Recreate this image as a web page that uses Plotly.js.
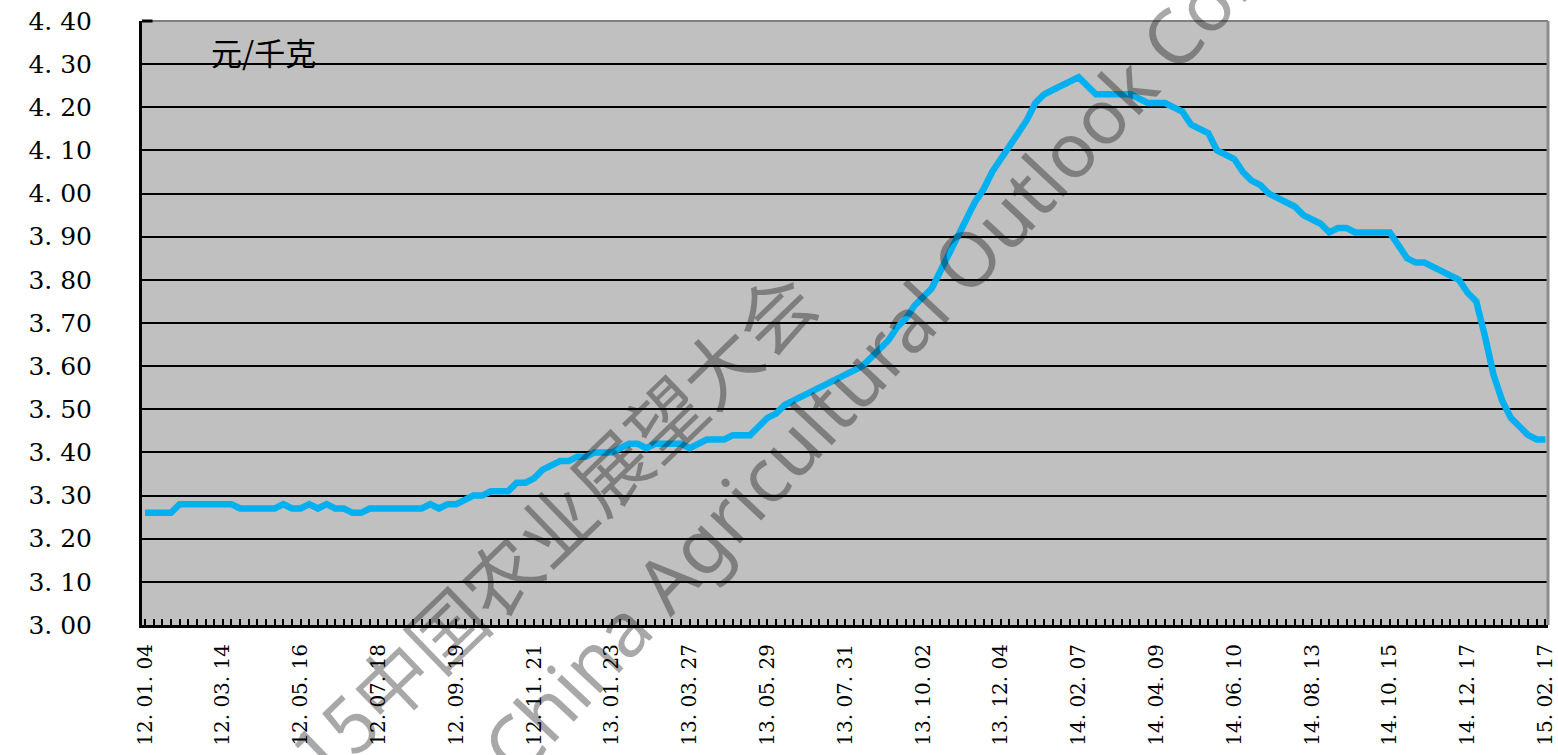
<!DOCTYPE html>
<html>
<head>
<meta charset="utf-8">
<script src="https://cdn.plot.ly/plotly-3.0.1.min.js"></script>
<style>html,body{margin:0;padding:0;background:#fff;}#chart{width:1558px;height:755px;}</style>
</head>
<body>
<div id="chart"></div>
<script>
// Weekly price (元/千克), 163 weekly observations 12.01.04 – 15.02.17
const prices = [
  3.26,3.26,3.26,3.26,3.28,3.28,3.28,3.28,3.28,3.28,
  3.28,3.27,3.27,3.27,3.27,3.27,3.28,3.27,3.27,3.28,
  3.27,3.28,3.27,3.27,3.26,3.26,3.27,3.27,3.27,3.27,
  3.27,3.27,3.27,3.28,3.27,3.28,3.28,3.29,3.30,3.30,
  3.31,3.31,3.31,3.33,3.33,3.34,3.36,3.37,3.38,3.38,
  3.39,3.39,3.40,3.40,3.40,3.41,3.42,3.42,3.41,3.42,
  3.42,3.42,3.42,3.41,3.42,3.43,3.43,3.43,3.44,3.44,
  3.44,3.46,3.48,3.49,3.51,3.52,3.53,3.54,3.55,3.56,
  3.57,3.58,3.59,3.60,3.62,3.64,3.66,3.69,3.71,3.74,
  3.76,3.78,3.82,3.86,3.90,3.94,3.98,4.01,4.05,4.08,
  4.11,4.14,4.17,4.21,4.23,4.24,4.25,4.26,4.27,4.25,
  4.23,4.23,4.23,4.23,4.23,4.22,4.21,4.21,4.21,4.20,
  4.19,4.16,4.15,4.14,4.10,4.09,4.08,4.05,4.03,4.02,
  4.00,3.99,3.98,3.97,3.95,3.94,3.93,3.91,3.92,3.92,
  3.91,3.91,3.91,3.91,3.91,3.88,3.85,3.84,3.84,3.83,
  3.82,3.81,3.80,3.77,3.75,3.67,3.58,3.52,3.48,3.46,
  3.44,3.43,3.43
];
// x-axis tick labels (every 9th week)
const dateLabels = ["12. 01. 04","12. 03. 14","12. 05. 16","12. 07. 18","12. 09. 19","12. 11. 21",
  "13. 01. 23","13. 03. 27","13. 05. 29","13. 07. 31","13. 10. 02","13. 12. 04",
  "14. 02. 07","14. 04. 09","14. 06. 10","14. 08. 13","14. 10. 15","14. 12. 17","15. 02. 17"];
const dateLabelWeeks = [0,9,18,27,36,45,54,63,72,81,90,99,108,117,126,135,144,153,162];
// y-axis ticks
const yTickValues = [3.0,3.1,3.2,3.3,3.4,3.5,3.6,3.7,3.8,3.9,4.0,4.1,4.2,4.3,4.4];
const yTickLabels = ["3. 00","3. 10","3. 20","3. 30","3. 40","3. 50","3. 60","3. 70","3. 80","3. 90","4. 00","4. 10","4. 20","4. 30","4. 40"];
const unitLabel = "元/千克";
const watermarkCn = "2015中国农业展望大会";
const watermarkEn = "China Agricultural Outlook Conference";

const weeks = prices.map((_, i) => i);

const trace = {
  x: weeks, y: prices, type: 'scatter', mode: 'lines',
  line: {color: '#00B0F0', width: 6.5},
  hoverinfo: 'skip'
};

const serif = 'DejaVu Serif, Liberation Serif, serif';
const layout = {
  width: 1558, height: 755,
  margin: {l: 142, r: 10, t: 21, b: 130},
  paper_bgcolor: '#ffffff',
  plot_bgcolor: '#C0C0C0',
  showlegend: false,
  xaxis: {
    range: [-0.35, 162.3],
    tickmode: 'array', tickvals: dateLabelWeeks, ticktext: dateLabels,
    tickangle: -90,
    ticks: 'inside', ticklen: 6, tickwidth: 2, tickcolor: '#000',
    minor: {tickmode: 'linear', tick0: 0, dtick: 1, ticks: 'inside', ticklen: 6, tickwidth: 2, tickcolor: '#000', showgrid: false},
    showgrid: false, zeroline: false,
    showline: true, linecolor: '#000', linewidth: 3,
    tickfont: {family: serif, size: 20, color: '#000'},
    ticklabelstandoff: 8
  },
  yaxis: {
    range: [3.0, 4.4],
    tickmode: 'array', tickvals: yTickValues, ticktext: yTickLabels,
    ticks: 'inside', ticklen: 10, tickwidth: 2, tickcolor: '#000',
    showgrid: true, gridcolor: '#000', gridwidth: 2,
    zeroline: false,
    showline: true, linecolor: '#000', linewidth: 3,
    tickfont: {family: serif, size: 25, color: '#000'},
    ticklabelstandoff: 42
  },
  shapes: [
    {type: 'line', xref: 'paper', yref: 'paper', x0: 0, x1: 1, y0: 1, y1: 1, line: {color: '#808080', width: 2}, layer: 'above'},
    {type: 'line', xref: 'paper', yref: 'paper', x0: 1, x1: 1, y0: 0, y1: 1, line: {color: '#8c8c8c', width: 3}, layer: 'above'},
    {type: 'line', xref: 'paper', yref: 'paper', x0: 0, x1: 0.0075, y0: 1, y1: 1, line: {color: '#000', width: 3}, layer: 'above'}
  ],
  annotations: [
    {text: unitLabel, xref: 'paper', yref: 'paper', x: 0.048, y: 0.99, xanchor: 'left', yanchor: 'top',
     showarrow: false, font: {family: 'Noto Sans CJK SC', size: 31, color: '#000'}},
    {text: watermarkCn, xref: 'paper', yref: 'paper', x: 0.041, y: -0.40, xanchor: 'left', yanchor: 'bottom',
     textangle: -44, showarrow: false, font: {family: 'Noto Sans CJK SC', size: 76, color: 'rgba(0,0,0,0.34)'}},
    {text: watermarkEn, xref: 'paper', yref: 'paper', x: 0.223, y: -0.29, xanchor: 'left', yanchor: 'bottom',
     textangle: -47, showarrow: false, font: {family: 'Noto Sans, Open Sans, sans-serif', size: 76, color: 'rgba(0,0,0,0.34)'}}
  ]
};

Plotly.newPlot('chart', [trace], layout, {displayModeBar: false, staticPlot: true});
</script>
</body>
</html>
